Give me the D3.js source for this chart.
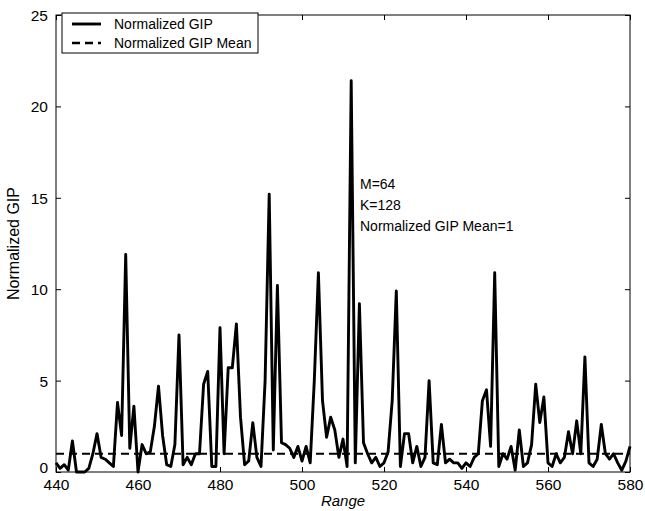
<!DOCTYPE html>
<html><head><meta charset="utf-8">
<script src="https://cdn.jsdelivr.net/npm/d3@7"></script>
<style>body{margin:0;background:#fff}svg{display:block}text{font-family:"Liberation Sans",Arial,sans-serif;fill:#000}</style>
</head><body>
<svg id="c" width="645" height="511"></svg>
<script>
const rangeStart = 440;
const gipValues = [
0.5,0.2,0.4,0.1,1.7,0.0,0.0,0.0,0.2,1.0,
2.1,0.8,0.7,0.5,0.3,3.8,2.0,11.9,1.3,3.6,
0.0,1.5,1.0,1.1,2.5,4.7,2.0,0.4,0.3,1.5,
7.5,0.4,0.8,0.4,1.0,1.0,4.8,5.5,0.3,0.3,
7.9,1.0,5.7,5.7,8.1,3.0,0.4,0.6,2.7,0.8,
0.3,5.0,15.2,1.2,10.2,1.6,1.5,1.3,0.8,1.4,
0.6,1.4,0.5,5.0,10.9,3.9,1.9,3.0,2.3,0.8,
1.8,0.3,21.4,0.5,9.2,1.6,1.0,0.5,0.8,0.3,
0.5,1.1,3.9,9.9,0.3,2.1,2.1,0.5,1.4,0.3,
0.8,5.0,0.5,0.4,2.6,0.5,0.7,0.5,0.5,0.2,
0.5,0.3,0.8,1.0,3.9,4.5,1.4,10.9,0.3,1.0,
0.7,1.4,0.1,2.3,0.3,0.5,1.5,4.8,2.7,4.1,
0.5,0.3,1.0,0.5,0.8,2.2,1.0,2.8,1.0,6.3,
0.5,0.3,0.7,2.6,1.0,0.7,1.0,0.5,0.1,0.6,
1.4];
const gipMean = 1;
const xTicks = [440,460,480,500,520,540,560,580];
const yTicks = [0,5,10,15,20,25];
const legendLabels = ["Normalized GIP","Normalized GIP Mean"];
const annotation = ["M=64","K=128","Normalized GIP Mean=1"];
const xLabel = "Range", yLabel = "Normalized GIP";

const data = gipValues.map((v,i)=>({r:rangeStart+i,v}));
const L=56,R=630,T=15,B=472;
const svg=d3.select("#c");
const x=d3.scaleLinear().domain([440,580]).range([L,R]);
const y=d3.scaleLinear().domain([0,25]).range([B,T]);

const gx=svg.append("g").attr("transform",`translate(0,${B})`)
  .call(d3.axisBottom(x).tickValues(xTicks).tickSize(-5).tickPadding(9).tickFormat(d3.format("d")));
const gxt=svg.append("g").attr("transform",`translate(0,${T})`)
  .call(d3.axisTop(x).tickValues(xTicks).tickSize(-5).tickFormat(""));
const gy=svg.append("g").attr("transform",`translate(${L},0)`)
  .call(d3.axisLeft(y).tickValues(yTicks).tickSize(-5).tickPadding(8).tickFormat(d3.format("d")));
const gyr=svg.append("g").attr("transform",`translate(${R},0)`)
  .call(d3.axisRight(y).tickValues(yTicks).tickSize(-5).tickFormat(""));
[gx,gxt,gy,gyr].forEach(g=>{g.select(".domain").remove();g.selectAll("line").attr("stroke","#000");g.selectAll("text").attr("font-size",15.5).attr("fill","#000")});
gx.selectAll("text").attr("dy","0.6em");
gy.selectAll("text").attr("dy",d=>d===0?"0.05em":"0.35em");
svg.append("rect").attr("x",L).attr("y",T).attr("width",R-L).attr("height",B-T).attr("fill","none").attr("stroke","#000").attr("stroke-width",1);

svg.append("line").attr("x1",x(440)).attr("x2",x(580)).attr("y1",y(gipMean)).attr("y2",y(gipMean))
  .attr("stroke","#000").attr("stroke-width",2).attr("stroke-dasharray","8,5");
svg.append("path").datum(data).attr("fill","none").attr("stroke","#000").attr("stroke-width",2.9)
  .attr("stroke-linejoin","round")
  .attr("d",d3.line().x(d=>x(d.r)).y(d=>y(d.v)));

const lg=svg.append("g");
lg.append("rect").attr("x",62).attr("y",13).attr("width",196).attr("height",40).attr("fill","#fff").attr("stroke","#000").attr("stroke-width",1);
lg.append("line").attr("x1",72).attr("x2",101).attr("y1",24).attr("y2",24).attr("stroke","#000").attr("stroke-width",2.9);
lg.append("line").attr("x1",72).attr("x2",101).attr("y1",43).attr("y2",43).attr("stroke","#000").attr("stroke-width",2.4).attr("stroke-dasharray","8,5");
lg.selectAll("text.l").data(legendLabels).join("text").attr("x",114).attr("y",(d,i)=>29+i*19).attr("font-size",14).text(d=>d);

svg.selectAll("text.a").data(annotation).join("text").attr("class","a").attr("x",360).attr("y",(d,i)=>189+i*21).attr("font-size",14).text(d=>d);

svg.append("text").attr("x",(L+R)/2).attr("y",506).attr("text-anchor","middle").attr("font-size",15).attr("font-style","italic").text(xLabel);
svg.append("text").attr("transform",`translate(19,${(T+B)/2}) rotate(-90)`).attr("text-anchor","middle").attr("font-size",16).text(yLabel);
</script>
</body></html>
